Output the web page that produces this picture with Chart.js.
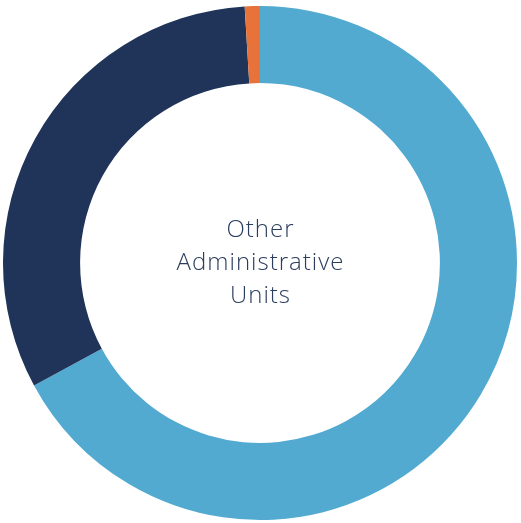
<!DOCTYPE html>
<html>
<head>
<meta charset="utf-8">
<script src="https://cdn.jsdelivr.net/npm/chart.js@4"></script>
<style>
  html, body { margin: 0; padding: 0; background: #fff; }
  canvas { display: block; }
</style>
</head>
<body>
<canvas id="donut" width="521" height="523"></canvas>
<script>
const labels = ['Segment A', 'Segment B', 'Segment C'];
const values = [67.1, 31.95, 0.95];
const colors = ['#52AAD1', '#1F3458', '#E8733A'];
const centerLines = ['Other', 'Administrative', 'Units'];

// draws the label inside the hole
const centerText = {
    id: 'centerText',
    afterDraw(chart) {
        const { ctx } = chart;
        const meta = chart.getDatasetMeta(0).data[0];
        if (!meta) return;
        ctx.save();
        ctx.fillStyle = '#2B3D5E';
        ctx.font = '300 24px "Open Sans", sans-serif';
        ctx.letterSpacing = '1px';
        ctx.textAlign = 'center';
        ctx.textBaseline = 'middle';
        const lh = 33;
        const top = meta.y - lh * (centerLines.length - 1) / 2;
        centerLines.forEach((line, i) => ctx.fillText(line, meta.x + 0.5, top + i * lh));
        ctx.restore();
    }
};

new Chart(document.getElementById('donut'), {
    type: 'doughnut',
    data: {
        labels,
        datasets: [{
            data: values,
            backgroundColor: colors,
            borderWidth: 0
        }]
    },
    options: {
        responsive: false,
        animation: false,
        cutout: '70%',
        layout: { padding: { top: 6, bottom: 3, left: 3, right: 4 } },
        plugins: {
            legend: { display: false },
            tooltip: { enabled: false }
        }
    },
    plugins: [centerText]
});
</script>
</body>
</html>
